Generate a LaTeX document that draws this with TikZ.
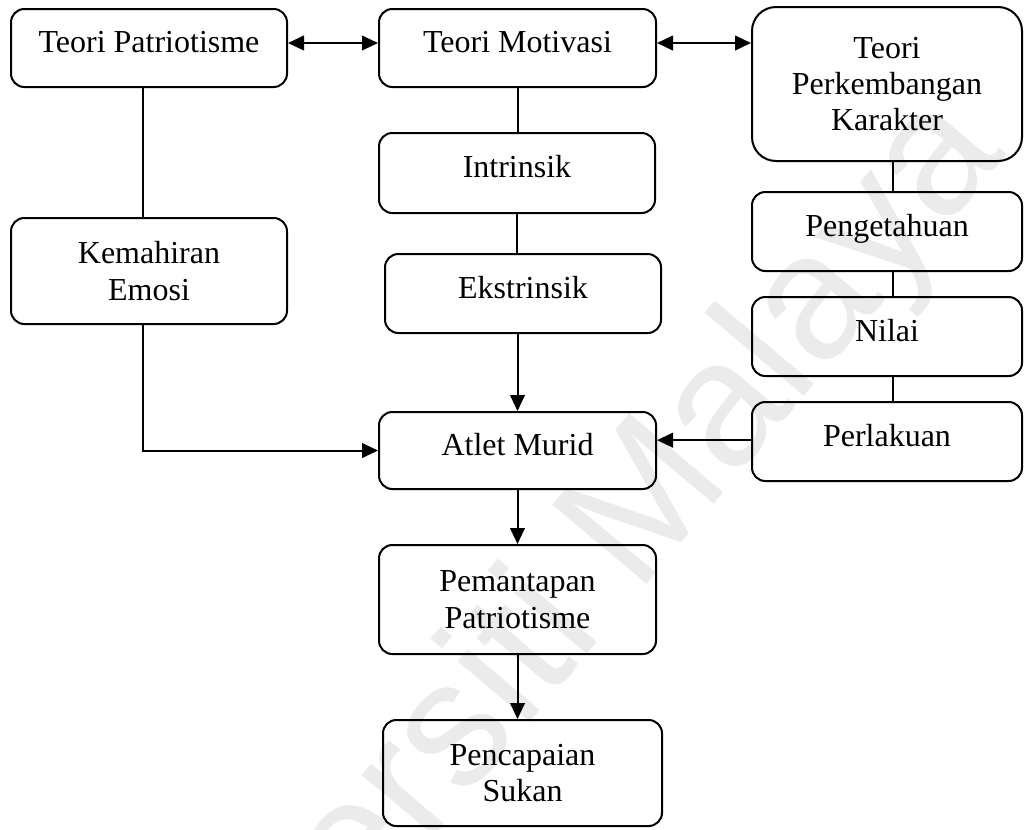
\documentclass[tikz,border=0pt]{standalone}
\usepackage{fontspec}
\setmainfont{Liberation Serif}
\setsansfont{Liberation Sans}
\usetikzlibrary{arrows.meta}
\begin{document}
\begin{tikzpicture}[x=0.75pt,y=-0.75pt,
  box/.style={draw, line width=1.5pt, rounded corners=10pt, inner sep=0pt, align=center, font=\fontsize{24}{27.3}\selectfont},
  one/.style={text height=15.9pt, text depth=9pt},
  con/.style={line width=1.5pt},
  tip/.tip={Triangle[length=12pt,width=11pt]},
  arr/.style={con, -tip},
  both/.style={con, tip-tip}]
\useasboundingbox (0,0) rectangle (1025,829);
\node[rotate=50, text=black!8, font=\sffamily\fontsize{134}{134}\selectfont] (wm) at (535,645) {Universiti Malaya};

\node[box, one, minimum width=207pt, minimum height=58.5pt] (TP) at (149,48) {Teori Patriotisme};
\node[box, one, minimum width=207.75pt, minimum height=58.5pt] (TM) at (517.5,48) {Teori Motivasi};
\node[box, rounded corners=18pt, minimum width=202.5pt, minimum height=115.5pt] (TPK) at (887,84) {Teori\\Perkembangan\\Karakter};
\node[box, one, minimum width=207pt, minimum height=60pt] (IN) at (517,173) {Intrinsik};
\node[box, one, minimum width=207pt, minimum height=59.25pt] (EK) at (523,293.5) {Ekstrinsik};
\node[box, minimum width=207pt, minimum height=79.5pt] (KE) at (149,271) {Kemahiran\\Emosi};
\node[box, one, minimum width=202.5pt, minimum height=59.25pt] (PG) at (887,231.5) {Pengetahuan};
\node[box, one, minimum width=202.5pt, minimum height=59.25pt] (NI) at (887,336.5) {Nilai};
\node[box, one, minimum width=202.5pt, minimum height=59.25pt] (PL) at (887,441.5) {Perlakuan};
\node[box, one, minimum width=207.75pt, minimum height=57.75pt] (AM) at (517.5,450.5) {Atlet Murid};
\node[box, minimum width=207.75pt, minimum height=81.75pt] (PP) at (517.5,599.5) {Pemantapan\\Patriotisme};
\node[box, minimum width=209.25pt, minimum height=79.5pt] (PS) at (522.5,773) {Pencapaian\\Sukan};

\draw[both] ([yshift=3.75pt]TP.east) -- ([yshift=3.75pt]TM.west);
\draw[both] ([yshift=3.75pt]TM.east) -- ([yshift=3.75pt]TM.east -| TPK.west);
\draw[con] ([xshift=-4.5pt]TP.south) -- ([xshift=-4.5pt]TP.south |- KE.north);
\draw[arr] ([xshift=-4.5pt]KE.south) |- (AM.west);
\draw[con] (TM.south) -- (TM.south |- IN.north);
\draw[con] (IN.south) -- (IN.south |- EK.north);
\draw[arr] (EK.south -| AM.north) -- (AM.north);
\draw[arr] (AM.south) -- (PP.north);
\draw[arr] (PP.south) -- (PP.south |- PS.north);
\draw[con] ([xshift=4.5pt]TPK.south) -- ([xshift=4.5pt]PG.north);
\draw[con] ([xshift=4.5pt]PG.south) -- ([xshift=4.5pt]NI.north);
\draw[con] ([xshift=4.5pt]NI.south) -- ([xshift=4.5pt]PL.north);
\draw[arr] ([yshift=1pt]PL.west) -- ([yshift=1pt]PL.west -| AM.east);
\end{tikzpicture}
\end{document}
